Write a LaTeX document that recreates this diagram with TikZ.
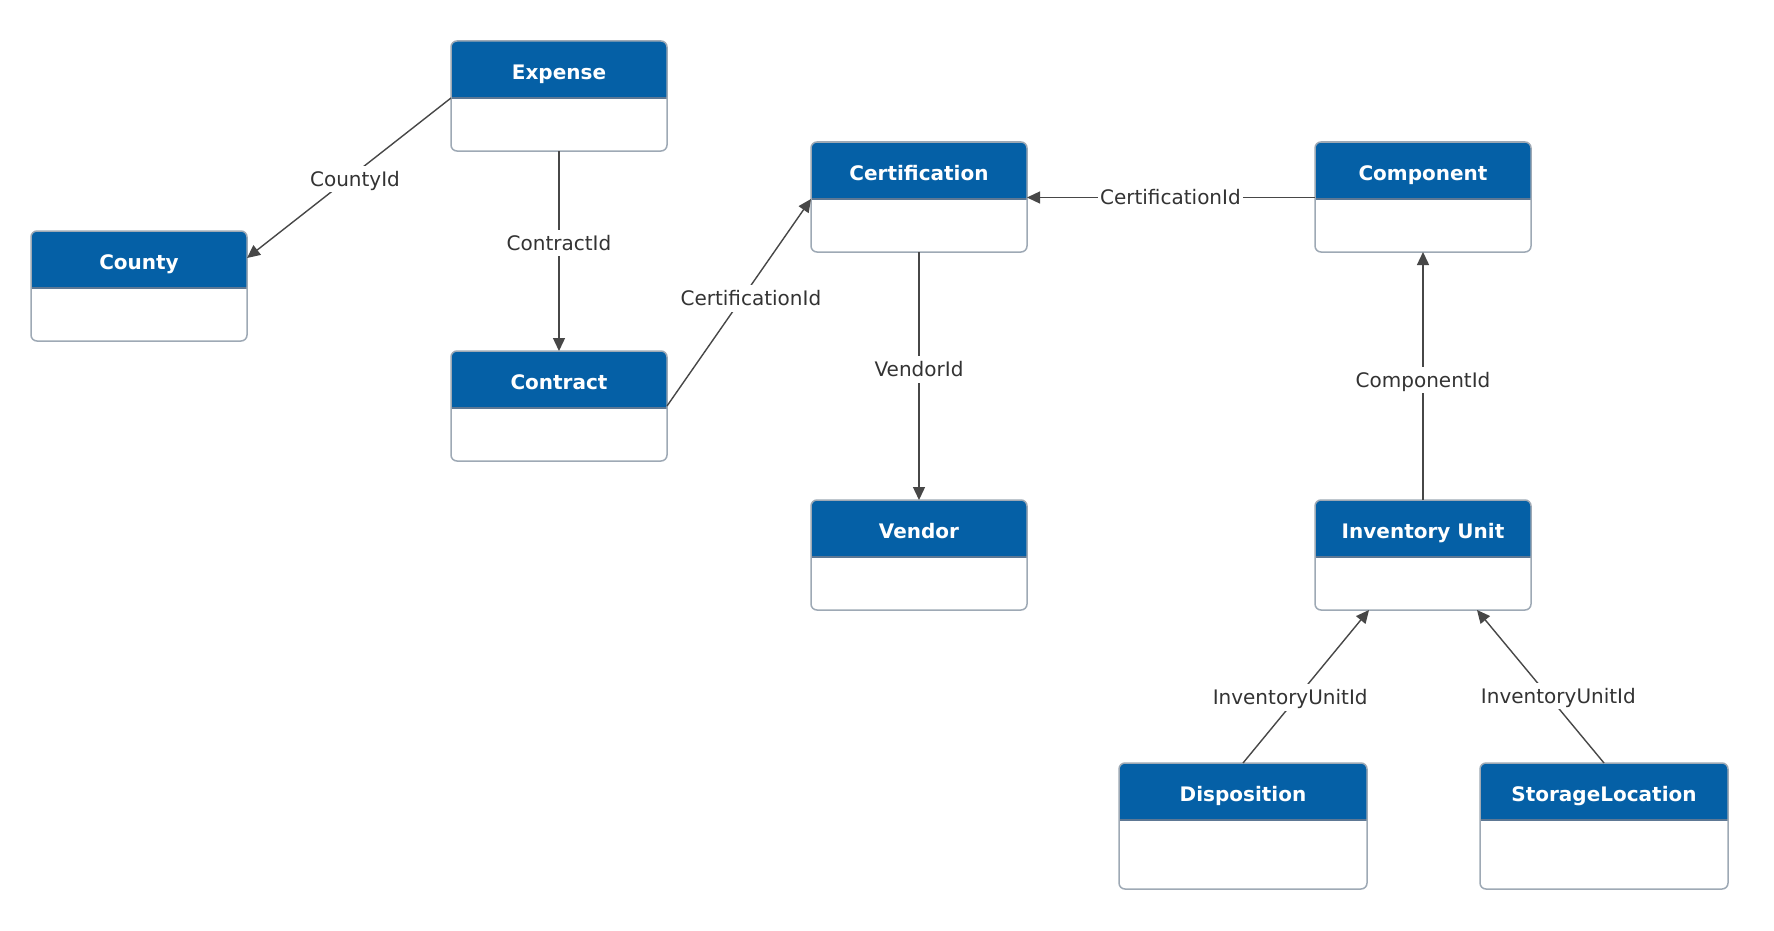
\documentclass[tikz,border=0pt]{standalone}
\usepackage{fontspec}
\setmainfont{DejaVu Sans}
\usetikzlibrary{arrows.meta,calc}
\definecolor{hdrblue}{HTML}{0560A6}
\definecolor{sepcol}{HTML}{5E7894}
\definecolor{bordercol}{HTML}{9EA9B5}
\definecolor{edgecol}{HTML}{474747}
\definecolor{lblcol}{HTML}{333333}
\tikzset{
  entbox/.style={draw=none, fill=white, inner sep=0pt, outer sep=0pt},
  entborder/.style={draw=bordercol, line width=1.5pt, rounded corners=6pt},
  seprule/.style={draw=sepcol, line width=2pt},
  hdrtext/.style={text=white, font=\fontsize{20pt}{24pt}\selectfont\bfseries, inner sep=0pt, anchor=base},
  fk/.style={draw=edgecol, line width=1.4pt, -{Triangle[length=13pt,width=12pt]}},
  lbl/.style={fill=white, text=lblcol, inner xsep=2pt, inner ysep=6pt, text height=14.6pt, text depth=0pt,
    font=\fontsize{20pt}{24pt}\selectfont}
}
\newcommand\entity[6]{%
  \node[entbox, minimum width=#4pt, minimum height=#5pt, anchor=north west] (#1) at (#2,#3) {};
  \begin{scope}
    \clip[rounded corners=6pt] (#1.south west) rectangle (#1.north east);
    \fill[hdrblue] (#1.north west) rectangle ($(#1.north east)+(0pt,-57pt)$);
  \end{scope}
  \draw[seprule] ($(#1.north west)+(0pt,-57pt)$) -- ($(#1.north east)+(0pt,-57pt)$);
  \draw[entborder] (#1.south west) rectangle (#1.north east);
  \node[hdrtext] (#1-title) at ($(#1.north)+(0pt,-38.3pt)$) {#6};
}
\begin{document}
\begin{tikzpicture}[x=1pt,y=-1pt]
\useasboundingbox[fill=white] (0,0) rectangle (1774,931);

\entity{expense}{451}{41}{216}{110}{Expense}
\entity{county}{31}{231}{216}{110}{County}
\entity{contract}{451}{351}{216}{110}{Contract}
\entity{certification}{811}{142}{216}{110}{Certification}
\entity{component}{1315}{142}{216}{110}{Component}
\entity{vendor}{811}{500}{216}{110}{Vendor}
\entity{iu}{1315}{500}{216}{110}{Inventory Unit}
\entity{disposition}{1119}{763}{248}{126}{Disposition}
\entity{storage}{1480}{763}{248}{126}{StorageLocation}

% connectors
\draw[fk] ($(expense.north west)+(0pt,-57pt)$) -- node[lbl,pos=0.505,xshift=7pt] {CountyId} ($(county.north east)+(0pt,-27pt)$);
\draw[fk] (expense.south) -- node[lbl,pos=0.46] {ContractId} (contract.north);
\draw[fk] ($(contract.north east)+(0pt,-55pt)$) -- node[lbl,pos=0.52,xshift=9pt] {CertificationId} ($(certification.north west)+(0pt,-57pt)$);
\draw[fk] ($(component.north west)+(0pt,-55.5pt)$) -- node[lbl,pos=0.502] {CertificationId} ($(certification.north east)+(0pt,-55.5pt)$);
\draw[fk] (certification.south) -- node[lbl,pos=0.474] {VendorId} (vendor.north);
\draw[fk] (iu.north) -- node[lbl,pos=0.484] {ComponentId} (component.south);
\draw[fk] (disposition.north) -- node[lbl,pos=0.43,xshift=-7pt] {InventoryUnitId} ($(iu.south west)!0.25!(iu.south east)$);
\draw[fk] (storage.north) -- node[lbl,pos=0.438,xshift=10pt] {InventoryUnitId} ($(iu.south west)!0.75!(iu.south east)$);
\end{tikzpicture}
\end{document}
